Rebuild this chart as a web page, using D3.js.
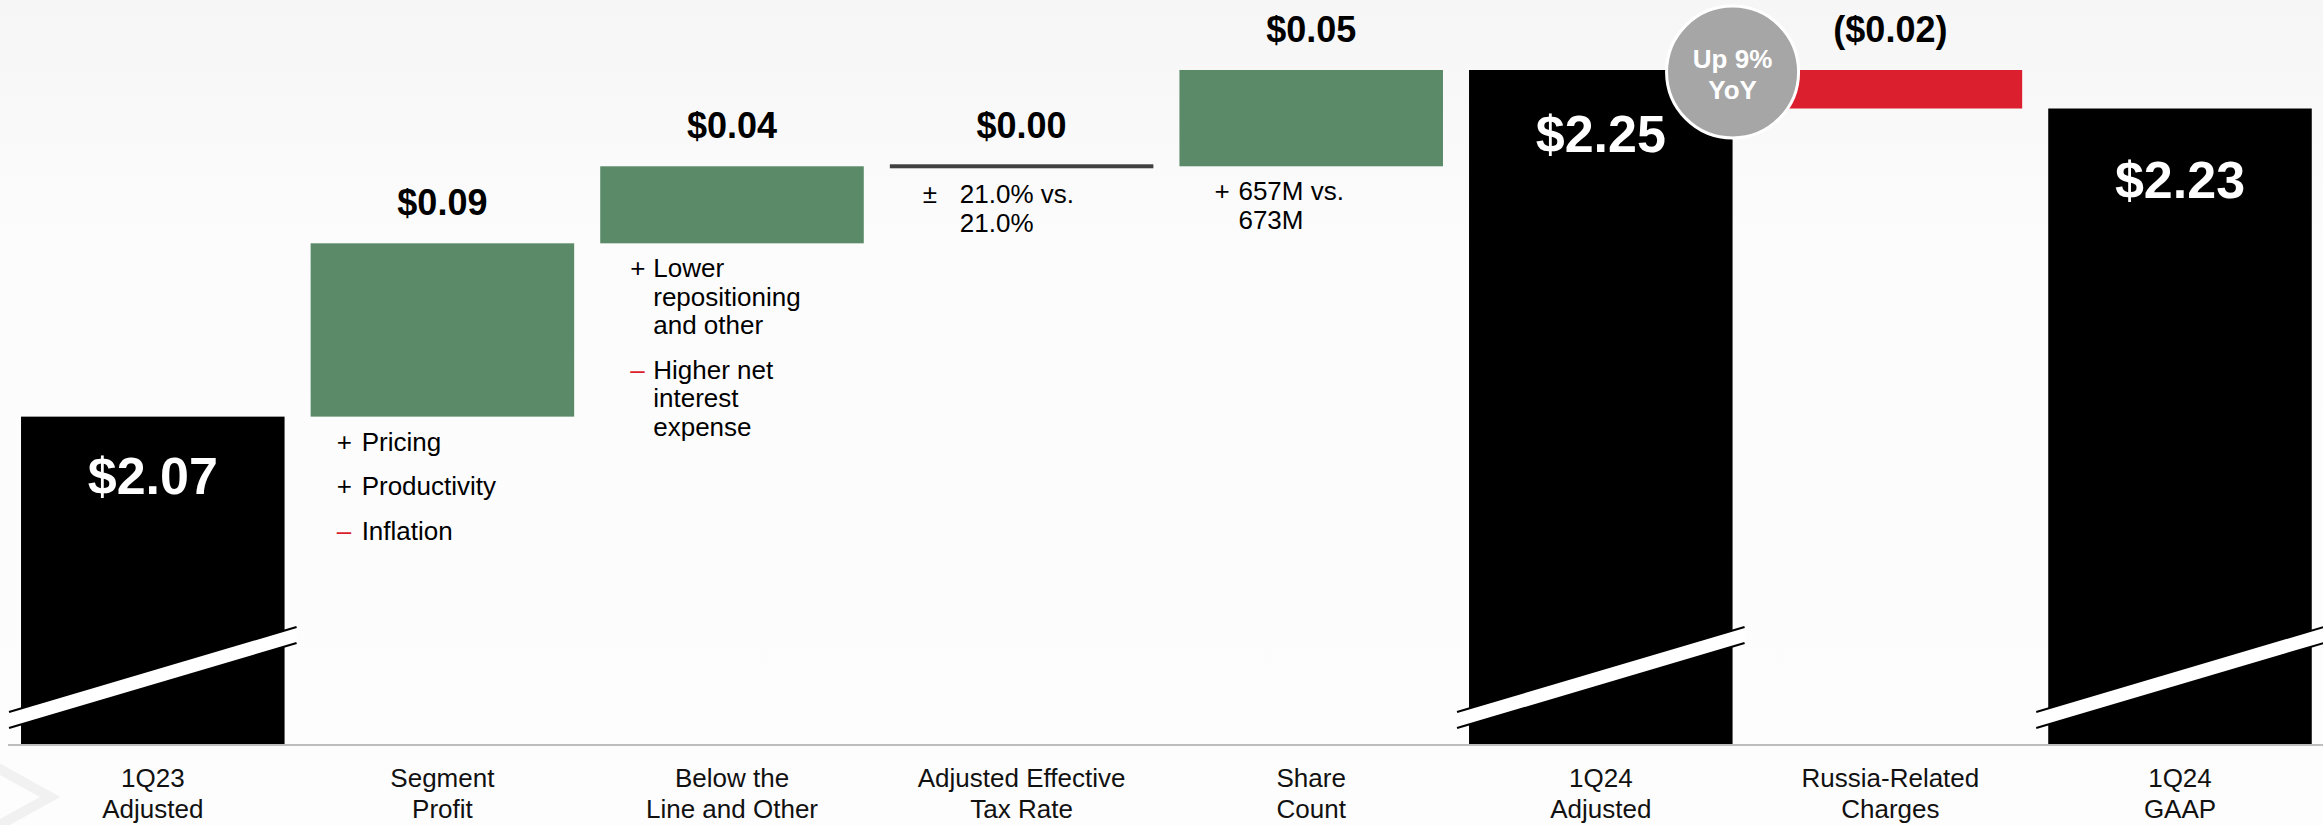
<!DOCTYPE html>
<html>
<head>
<meta charset="utf-8">
<script src="https://cdn.jsdelivr.net/npm/d3@7"></script>
<style>
  body { margin: 0; background: #fcfcfc; overflow: hidden; }
  svg { display: block; font-family: "Liberation Sans", Arial, sans-serif; }
</style>
</head>
<body>
<div id="chart"></div>
<script>
(function () {
    "use strict";

// data
var categories = ["1Q23 Adjusted", "Segment Profit", "Below the Line and Other", "Adjusted Effective Tax Rate",
    "Share Count", "1Q24 Adjusted", "Russia-Related Charges", "1Q24 GAAP"];
var categoryLines = [["1Q23", "Adjusted"], ["Segment", "Profit"], ["Below the", "Line and Other"],
    ["Adjusted Effective", "Tax Rate"], ["Share", "Count"], ["1Q24", "Adjusted"],
    ["Russia-Related", "Charges"], ["1Q24", "GAAP"]];
var barKinds = ["total", "up", "up", "flat", "up", "total", "down", "total"];
var values = [2.07, 0.09, 0.04, 0.00, 0.05, 2.25, -0.02, 2.23];
var valueLabels = ["$2.07", "$0.09", "$0.04", "$0.00", "$0.05", "$2.25", "($0.02)", "$2.23"];
var drivers = [
    [],
    [["+", ["Pricing"]], ["+", ["Productivity"]], ["\u2013", ["Inflation"]]],
    [["+", ["Lower", "repositioning", "and other"]], ["\u2013", ["Higher net", "interest", "expense"]]],
    [["\u00b1", ["21.0% vs.", "21.0%"]]],
    [["+", ["657M vs.", "673M"]]],
    [], [], []
];
var badgeLines = ["Up 9%", "YoY"];
var badgeIndex = 5;

var width = 2323,
    height = 825,
    axisY = 744;

var green = "#5b8a68",
    red = "#dc1f2f",
    badgeGrey = "#a6a6a6";

// sign / text indents inside each driver block, label drop inside totals
var signIndent = [0, 26, 30, 33, 35, 0, 0, 0],
    textIndent = [0, 51, 53, 70, 59, 0, 0, 0],
    totalDrop = [77, 0, 0, 0, 0, 82, 0, 89];

// running totals for the waterfall
var bars = [];
var running = 0;
values.forEach(function (v, i) {
    var lo, hi;
    if (barKinds[i] === "total") {
        running = v;
        lo = null; hi = v;
    } else {
        lo = running;
        running = running + v;
        hi = running;
    }
    bars.push({ i: i, kind: barKinds[i], lo: lo, hi: hi, label: valueLabels[i] });
});

var x = d3.scaleBand()
    .domain(categories)
    .range([8, 2324.8])
    .paddingInner(0.09)
    .paddingOuter(0.045);

var y = d3.scaleLinear()
    .domain([1.9, 2.25])
    .range([axisY, 70]);

var svg = d3.select("#chart").append("svg")
    .attr("width", width)
    .attr("height", height);

// background
var defs = svg.append("defs");
var bg = defs.append("linearGradient")
    .attr("id", "bg")
    .attr("x1", 0).attr("y1", 0).attr("x2", 0).attr("y2", 1);
bg.append("stop").attr("offset", "0%").attr("stop-color", "#f6f6f6");
bg.append("stop").attr("offset", "30%").attr("stop-color", "#fcfcfc");
bg.append("stop").attr("offset", "100%").attr("stop-color", "#fdfdfd");

svg.append("rect")
    .attr("width", width)
    .attr("height", height)
    .attr("fill", "url(#bg)");

// faint chevron bottom-left
svg.append("path")
    .attr("d", "M-6,766 L50,797 L-6,828")
    .attr("fill", "none")
    .attr("stroke", "#f1f1f1")
    .attr("stroke-width", 10);

var bw = x.bandwidth();

function top(b) {
    return y(b.kind === "total" ? b.hi : Math.max(b.lo, b.hi));
}
function bottom(b) {
    return b.kind === "total" ? axisY : y(Math.min(b.lo, b.hi));
}

// bars
svg.append("g").selectAll("rect")
    .data(bars.filter(function (b) { return b.kind !== "flat"; }))
    .join("rect")
    .attr("x", function (b) { return x(categories[b.i]); })
    .attr("y", top)
    .attr("width", bw)
    .attr("height", function (b) { return bottom(b) - top(b); })
    .attr("fill", function (b) {
        if (b.kind === "total") return "#000";
        return b.kind === "up" ? green : red;
    });

// zero change line
svg.append("g").selectAll("rect")
    .data(bars.filter(function (b) { return b.kind === "flat"; }))
    .join("rect")
    .attr("x", function (b) { return x(categories[b.i]); })
    .attr("y", function (b) { return y(b.hi) - 2; })
    .attr("width", bw)
    .attr("height", 4)
    .attr("fill", "#404040");

// axis break marks on totals
var breaks = svg.append("g").selectAll("g")
    .data(bars.filter(function (b) { return b.kind === "total"; }))
    .join("g")
    .attr("transform", function (b) { return "translate(" + x(categories[b.i]) + ",0)"; });

var x0 = -12, x1 = bw + 12, yl = 712, yr = 627, gap = 16;
breaks.append("path")
    .attr("d", "M" + x0 + "," + yl + "L" + x1 + "," + yr + "L" + x1 + "," + (yr + gap) + "L" + x0 + "," + (yl + gap) + "Z")
    .attr("fill", "#fff");
breaks.selectAll("line")
    .data([0, gap])
    .join("line")
    .attr("x1", x0).attr("y1", function (d) { return yl + d; })
    .attr("x2", x1).attr("y2", function (d) { return yr + d; })
    .attr("stroke", "#000")
    .attr("stroke-width", 2);

// axis baseline
svg.append("line")
    .attr("x1", 8).attr("x2", width)
    .attr("y1", axisY + 1).attr("y2", axisY + 1)
    .attr("stroke", "#bdbdbd")
    .attr("stroke-width", 2);

// value labels
svg.append("g").selectAll("text")
    .data(bars)
    .join("text")
    .attr("x", function (b) { return x(categories[b.i]) + bw / 2; })
    .attr("y", function (b) { return b.kind === "total" ? top(b) + totalDrop[b.i] : top(b) - 28; })
    .attr("text-anchor", "middle")
    .attr("font-weight", "bold")
    .attr("font-size", function (b) { return b.kind === "total" ? 52 : 36; })
    .attr("fill", function (b) { return b.kind === "total" ? "#fff" : "#000"; })
    .text(function (b) { return b.label; });

// drivers under each step
bars.forEach(function (b) {
    var items = drivers[b.i];
    if (!items.length) return;
    var left = x(categories[b.i]);
    var base = (b.kind === "flat" ? y(b.hi) + 37 : bottom(b) + 34);
    var g = svg.append("g").attr("font-size", 26);
    items.forEach(function (item) {
        g.append("text")
            .attr("x", left + signIndent[b.i])
            .attr("y", base)
            .attr("fill", item[0] === "\u2013" ? red : "#000")
            .text(item[0]);
        item[1].forEach(function (line, k) {
            g.append("text")
                .attr("x", left + textIndent[b.i])
                .attr("y", base + k * 28.5)
                .attr("fill", "#000")
                .text(line);
        });
        base += (item[1].length - 1) * 28.5 + 44.5;
    });
});

// category labels
var cat = svg.append("g").selectAll("text")
    .data(categoryLines)
    .join("text")
    .attr("text-anchor", "middle")
    .attr("font-size", 26)
    .attr("fill", "#111");
cat.selectAll("tspan")
    .data(function (d, i) { return d.map(function (t) { return { t: t, i: i }; }); })
    .join("tspan")
    .attr("x", function (d) { return x(categories[d.i]) + bw / 2; })
    .attr("y", function (d, k) { return 787 + k * 31; })
    .text(function (d) { return d.t; });

// YoY badge on the 1Q24 adjusted bar
var bx = x(categories[badgeIndex]) + bw,
    by = y(values[badgeIndex]) + 2;
svg.append("circle")
    .attr("cx", bx)
    .attr("cy", by)
    .attr("r", 66)
    .attr("fill", badgeGrey)
    .attr("stroke", "#fff")
    .attr("stroke-width", 3);
svg.append("g").selectAll("text")
    .data(badgeLines)
    .join("text")
    .attr("x", bx)
    .attr("y", function (d, k) { return by - 4 + k * 31; })
    .attr("text-anchor", "middle")
    .attr("font-weight", "bold")
    .attr("font-size", 26)
    .attr("fill", "#fff")
    .text(function (d) { return d; });

})();
</script>
</body>
</html>
